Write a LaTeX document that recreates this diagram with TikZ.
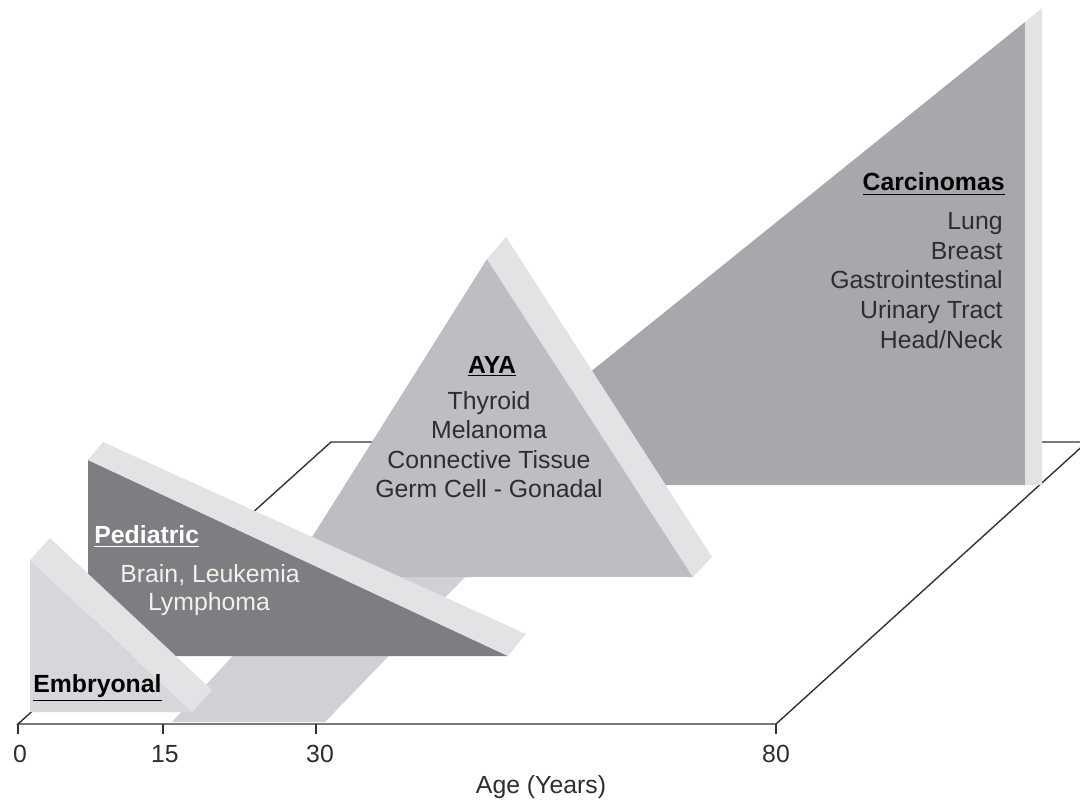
\documentclass[tikz,border=0pt]{standalone}
\usepackage{fontspec}
\setmainfont{Liberation Sans}
\definecolor{txt}{HTML}{2E2E30}
\definecolor{axisc}{HTML}{333333}
\definecolor{carc}{HTML}{A6A8AB}
\definecolor{ayaf}{HTML}{BCBEC1}
\definecolor{pedf}{HTML}{7C7E81}
\definecolor{embf}{HTML}{D5D7DA}
\definecolor{bandc}{HTML}{E3E3E6}
\definecolor{stripc}{HTML}{D0D1D4}
\definecolor{pedtxt}{HTML}{F4F1EC}
\newcommand{\hdr}[1]{\underline{\textbf{#1}}}
\begin{document}
\begin{tikzpicture}[x=0.5pt,y=-0.5pt,
  faceshape/.style={fill=#1,draw=none},
  axisline/.style={draw=axisc,line width=0.7pt},
  lbl/.style={font=\fontsize{12.4}{15}\selectfont,text=txt,inner sep=0pt,anchor=base},
  lblr/.style={lbl,anchor=base east},
  lbll/.style={lbl,anchor=base west}]
\useasboundingbox (0,0) rectangle (1080,802);
\clip (0,0) rectangle (1080,802);
% floor outline
\coordinate (f0) at (18,724);
\coordinate (f15) at (163,724);
\coordinate (f30) at (316,724);
\coordinate (f80) at (776,724);
\coordinate (bl) at (331,442);
\coordinate (br) at (1087,442);
\draw[axisline,line join=miter] (f0) -- (bl) -- (br) -- (f80) -- cycle;
% carcinoma wedge
\fill[faceshape=carc] (1025,22) -- (450,485) -- (1025,485) -- cycle;
\fill[faceshape=bandc] (1025,22) -- (1042,8) -- (1042,485) -- (1025,485) -- cycle;
% floor strip 15-30
\fill[faceshape=stripc] (172,722) -- (325,722) -- (465,577) -- (305,577) -- cycle;
% AYA wedge
\fill[faceshape=ayaf] (487,259) -- (287,577) -- (693,577) -- cycle;
\fill[faceshape=bandc] (487,259) -- (693,577) -- (712,557) -- (506,237) -- cycle;
% Pediatric wedge
\fill[faceshape=pedf] (88,460) -- (88,656) -- (508,656) -- cycle;
\fill[faceshape=bandc] (88,460) -- (508,656) -- (526,634) -- (103,442) -- cycle;
% Embryonal wedge
\fill[faceshape=embf] (30,560) -- (30,712) -- (192,712) -- cycle;
\fill[faceshape=bandc] (30,560) -- (192,712) -- (212,690) -- (50,538) -- cycle;
% ticks
\foreach \p in {f0,f15,f30,f80} \draw[axisline] (\p) -- ++(0,10);
% axis labels
\node[lbl] (t0) at (20,762) {0};
\node[lbl] (t15) at (165,762) {15};
\node[lbl] (t30) at (320,762) {30};
\node[lbl] (t80) at (776,762) {80};
\node[lbl] (age) at (541,793) {Age (Years)};
% Embryonal
\node[lbll,text=black] (emb) at (33,692) {\hdr{Embryonal}};
% Pediatric
\node[lbll,text=white] (ped) at (94,543) {\hdr{Pediatric}};
\node[lbl,text=pedtxt] (ped1) at (210,582) {Brain, Leukemia};
\node[lbl,text=pedtxt] (ped2) at (209,610) {Lymphoma};
% AYA
\node[lbl,text=black] (aya) at (492,373) {\hdr{AYA}};
\node[lbl] (aya1) at (489,409) {Thyroid};
\node[lbl] (aya2) at (489,438) {Melanoma};
\node[lbl] (aya3) at (489,468) {Connective Tissue};
\node[lbl] (aya4) at (489,497) {Germ Cell - Gonadal};
% Carcinomas
\node[lblr,text=black] (car) at (1005,191) {\hdr{Carcinomas}};
\node[lblr] (car1) at (1003,229) {Lung};
\node[lblr] (car2) at (1003,259) {Breast};
\node[lblr] (car3) at (1003,288) {Gastrointestinal};
\node[lblr] (car4) at (1003,318) {Urinary Tract};
\node[lblr] (car5) at (1003,348) {Head/Neck};
\end{tikzpicture}
\end{document}
